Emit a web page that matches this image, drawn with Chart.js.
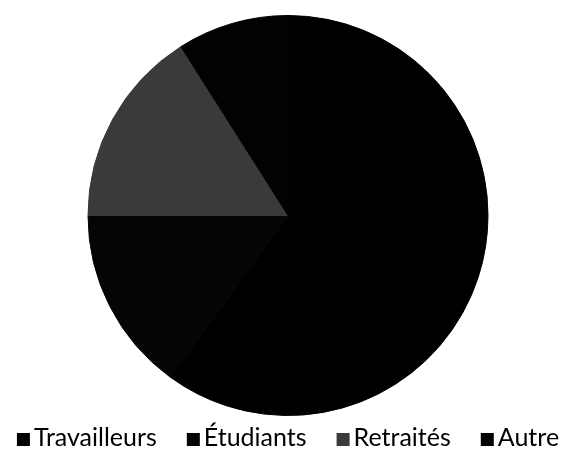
<!DOCTYPE html>
<html>
<head>
<meta charset="utf-8">
<script src="https://cdn.jsdelivr.net/npm/chart.js@4/dist/chart.umd.min.js"></script>
<style>
  html, body { margin: 0; padding: 0; background: #fff; }
  #wrap { width: 569px; height: 449px; }
</style>
</head>
<body>
<div id="wrap"><canvas id="pieChart"></canvas></div>
<script>
// DATA
const categories = ['Travailleurs', 'Étudiants', 'Retraités', 'Autre'];
const shares = [60, 15, 16, 9];
const sliceColors = ['#000000', '#050505', '#3a3a3a', '#020202'];

// LEGEND (drawn under the pie, tight marker/text gap like the original)
const bottomLegend = {
    id: 'bottomLegend',
    afterDraw(chart) {
        const c = chart.ctx;
        const area = chart.chartArea;
        const box = 13, gap = 4, spacing = 30;
        c.save();
        c.font = '25px Lato';
        const widths = categories.map(t => c.measureText(t).width);
        const total = widths.reduce((a, w) => a + box + gap + w, 0) + spacing * (categories.length - 1);
        let x = (area.left + area.right) / 2 - total / 2;
        const baseline = 446;
        categories.forEach((t, i) => {
            c.fillStyle = sliceColors[i];
            c.fillRect(x, baseline - box, box, box);
            c.fillStyle = '#000';
            c.fillText(t, x + box + gap, baseline);
            x += box + gap + widths[i] + spacing;
        });
        c.restore();
    }
};

// PIE CHART
const ctx = document.getElementById('pieChart').getContext('2d');
const pieChart = new Chart(ctx, {
    type: 'pie',
    data: {
        labels: categories,
        datasets: [{
            data: shares,
            backgroundColor: sliceColors,
            borderColor: sliceColors,
            borderWidth: 1
        }]
    },
    options: {
        responsive: true,
        maintainAspectRatio: false,
        animation: false,
        layout: { padding: { top: 15, left: 7, right: 0, bottom: 33 } },
        plugins: {
            tooltip: { enabled: false },
            legend: { display: false }
        }
    },
    plugins: [bottomLegend]
});
</script>
</body>
</html>
